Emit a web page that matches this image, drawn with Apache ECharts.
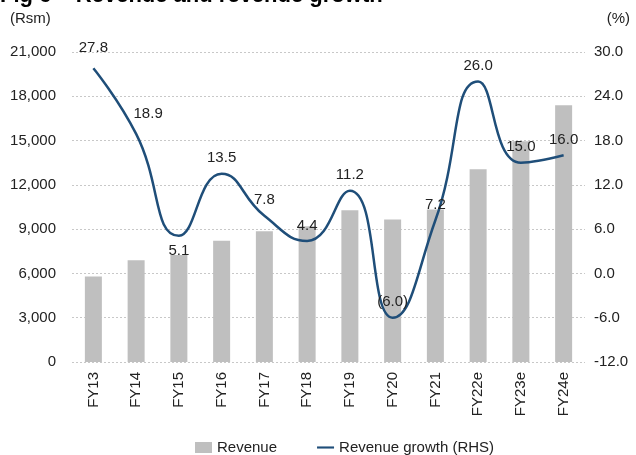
<!DOCTYPE html>
<html>
<head>
<meta charset="utf-8">
<script src="https://cdn.jsdelivr.net/npm/echarts@6/dist/echarts.min.js"></script>
<style>html,body{margin:0;padding:0;background:#fff}#c{width:636px;height:455px}</style>
</head>
<body>
<div id="c"></div>
<script>
var categories = ['FY13','FY14','FY15','FY16','FY17','FY18','FY19','FY20','FY21','FY22e','FY23e','FY24e'];
var revenue = [5800, 6900, 7250, 8220, 8850, 9200, 10280, 9660, 10330, 13050, 14950, 17400];
var growth = [27.8, 18.9, 5.1, 13.5, 7.8, 4.4, 11.2, -6.0, 7.2, 26.0, 15.0, 16.0];
var belowLabels = ['FY15'];
var labelShift = {FY13:[0,-5], FY14:[12,-5]};

var FONT = '"Liberation Sans", Arial, sans-serif';
var chart = echarts.init(document.getElementById('c'), null, {renderer:'canvas'});
var grid = {left:72, right:51, top:52, bottom:93};
var gridLine = {show:true, lineStyle:{color:'#c8c8c8', type:[2,2], width:1}};
function fmtPct(v){ return v < 0 ? '(' + Math.abs(v).toFixed(1) + ')' : v.toFixed(1); }
chart.setOption({
  animation:false,
  textStyle:{fontFamily:FONT},
  grid:grid,
  graphic:[
    {type:'text', left:0, top:-15, style:{text:'Fig 6 \u2013 Revenue and revenue growth', font:'bold 22px ' + FONT, fill:'#000'}},
    {type:'text', left:10, top:11, style:{text:'(Rsm)', font:'15px ' + FONT, fill:'#222'}},
    {type:'text', right:6, top:11, style:{text:'(%)', font:'15px ' + FONT, fill:'#222'}}
  ],
  legend:{
    top:440, left:195, padding:0, itemGap:40, itemWidth:17, itemHeight:11,
    textStyle:{fontFamily:FONT, fontSize:15, color:'#222'},
    data:[{name:'Revenue', icon:'rect'},
          {name:'Revenue growth (RHS)', icon:'path://M0,0 L20,0 L20,2.5 L0,2.5 Z', itemStyle:{color:'#1f4e79', opacity:1}}]
  },
  xAxis:{
    type:'category', data:categories,
    axisLine:{show:false}, axisTick:{show:false},
    axisLabel:{rotate:90, fontSize:15, color:'#222', margin:10, fontFamily:FONT}
  },
  yAxis:[
    {type:'value', min:0, max:21000, interval:3000,
     axisLabel:{fontSize:15, color:'#222', margin:16, fontFamily:FONT,
       formatter:function(v){return v.toLocaleString('en-US');}},
     splitLine:gridLine, axisLine:{show:false}, axisTick:{show:false}},
    {type:'value', min:-12, max:30, interval:6,
     axisLabel:{fontSize:15, color:'#222', margin:9, fontFamily:FONT,
       formatter:function(v){return v.toFixed(1);}},
     splitLine:{show:false}, axisLine:{show:false}, axisTick:{show:false}}
  ],
  series:[
    {name:'Revenue', type:'bar', data:revenue, barWidth:17, yAxisIndex:0,
     itemStyle:{color:'#bfbfbf'}},
    {name:'Revenue growth (RHS)', type:'line', yAxisIndex:1, smooth:0.5,
     symbol:'circle', symbolSize:0.01, showSymbol:true,
     lineStyle:{color:'#1f4e79', width:2.5}, itemStyle:{color:'#1f4e79'},
     data:growth.map(function(v,i){
       var c = categories[i];
       return {value:v, label:{position: belowLabels.indexOf(c)>=0 ? 'bottom' : 'top',
                               offset: labelShift[c] || [0,0]}};
     }),
     label:{show:true, fontSize:15, color:'#222', distance:8, fontFamily:FONT,
       formatter:function(p){return fmtPct(p.value);}}
    }
  ]
});
</script>
</body>
</html>
